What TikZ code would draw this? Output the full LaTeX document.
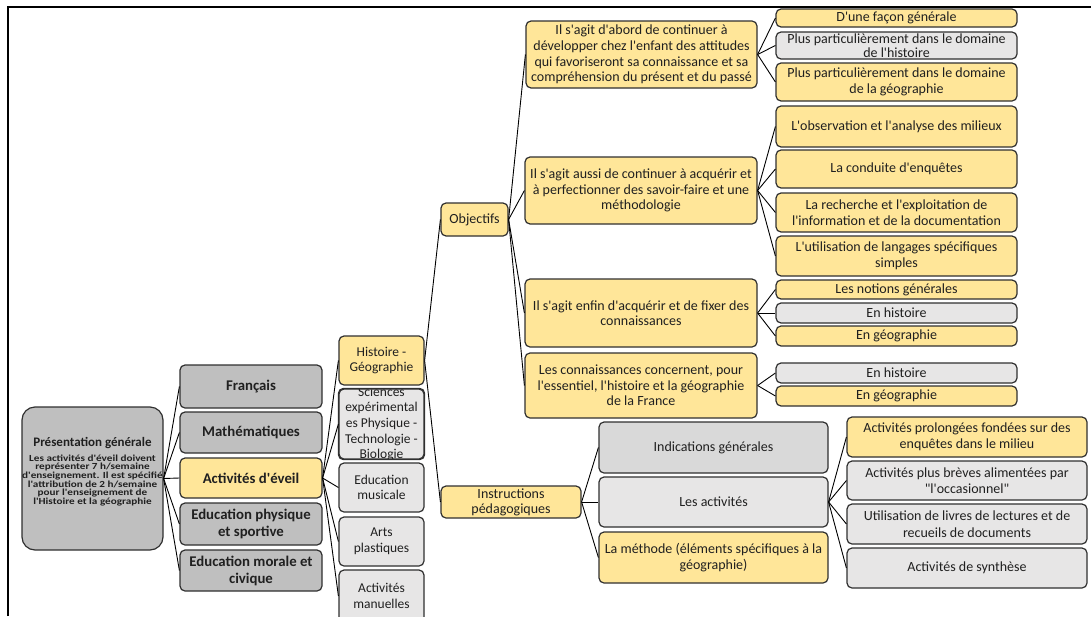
\documentclass[tikz,border=0pt]{standalone}
\usepackage{fontspec}
\setmainfont{Carlito}[Ligatures=TeXOff]
\newfontfamily\widefont{Carlito}[Ligatures=TeXOff, FakeStretch=1.2]
\definecolor{yel}{HTML}{FFE699}
\definecolor{lg}{HTML}{E7E6E6}
\definecolor{mg}{HTML}{D9D9D9}
\definecolor{dg}{HTML}{BFBFBF}
\definecolor{bord}{HTML}{303030}
\definecolor{txt}{HTML}{202020}
\tikzset{
  bx/.style={draw=bord, line width=1.2pt, rounded corners=5pt, inner sep=0pt, align=center, text=txt},
  yb/.style={bx, fill=yel},
  gb/.style={bx, fill=lg},
  mb/.style={bx, fill=mg},
  db/.style={bx, fill=dg},
  fbig/.style={font=\fontsize{14.8}{17}\selectfont\bfseries},
  fmid/.style={font=\fontsize{13.5}{15.7}\selectfont},
  fsm/.style={font=\fontsize{14}{16.5}\selectfont},
  fpar/.style={font=\fontsize{14}{15.6}\selectfont},
  conn/.style={draw=black, line width=0.9pt},
}
\newcommand\bxn[7]{\node[#1, minimum width=#5pt, minimum height=#6pt] (#2) at (#3,#4) {#7};}
\begin{document}
\begin{tikzpicture}[x=1pt,y=-1pt]
\clip (0,0) rectangle (1091,616);
\fill[white] (0,0) rectangle (1091,616);
\draw[line width=2pt] (8,616) -- (8,7) -- (1091,7);

% root
\node[db, rounded corners=13pt, minimum width=141pt, minimum height=143pt] (pres) at (92.5,478.5) {};
\node[align=center, text=txt, inner sep=0pt, yshift=7pt,
      font=\widefont\fontsize{9.3}{7.9}\selectfont\bfseries] (prest) at (pres.center)
  {{\normalfont\fontsize{13}{14}\selectfont\bfseries Présentation générale}\\[5pt]
   Les activités d'éveil doivent\\représenter 7 h/semaine\\d'enseignement. Il est spécifié\\l'attribution de 2 h/semaine\\pour l'enseignement de\\l'Histoire et la géographie};

% column 2
\bxn{db,fbig}{fr}{251}{386.5}{142}{43}{Français}
\bxn{db,fbig}{ma}{251}{432.5}{142}{41}{Mathématiques}
\bxn{yb,fbig}{ae}{251}{478}{142}{40}{Activités d'éveil}
\bxn{db,fbig}{ep}{251}{524}{142}{42}{Education physique\\et sportive}
\bxn{db,fbig}{em}{251}{570.5}{142}{41}{Education morale et\\civique}

% column 3
\bxn{yb,fmid}{hg}{381.5}{360.5}{85}{49}{Histoire -\\Géographie}
\node[gb, minimum width=85pt, minimum height=70pt] (sc) at (381.5,424) {};
\begin{scope}
  \clip (sc.south west) rectangle (sc.north east);
  \node[fmid, align=center, text=txt, inner sep=0pt] (sct) at (sc.center)
    {Sciences\\expérimental\\es Physique -\\Technologie -\\Biologie};
\end{scope}
\draw[draw=bord, line width=1.2pt, rounded corners=5pt] (sc.south west) rectangle (sc.north east);
\bxn{gb,fmid}{mu}{381.5}{487.5}{85}{49}{Education\\musicale}
\bxn{gb,fmid}{ap}{381.5}{541.5}{85}{49}{Arts\\plastiques}
\bxn{gb,fmid}{am}{381.5}{596}{85}{52}{Activités\\manuelles}

% level 4
\bxn{yb,fsm}{obj}{474.5}{219.5}{67}{33}{Objectifs}
\bxn{yb,fsm}{ip}{511}{502}{140}{32}{Instructions\\[-1.5pt]pédagogiques}

% objectifs children
\bxn{yb,fpar}{oa}{641.5}{54.5}{231}{67}{Il s'agit d'abord de continuer à\\développer chez l'enfant des attitudes\\qui favoriseront sa connaissance et sa\\compréhension du présent et du passé}
\bxn{yb,fpar}{ob}{641}{190.5}{232}{67}{Il s'agit aussi de continuer à acquérir et\\à perfectionner des savoir-faire et une\\méthodologie}
\bxn{yb,fpar}{oc}{641}{313}{232}{68}{Il s'agit enfin d'acquérir et de fixer des\\connaissances}
\bxn{yb,fpar}{od}{641}{385.5}{232}{65}{Les connaissances concernent, pour\\l'essentiel, l'histoire et la géographie\\de la France}

% grandchildren
\bxn{yb,fsm}{a1}{896.5}{18}{241}{18}{D'une façon générale}
\bxn{gb,fsm}{a2}{896.5}{45.5}{241}{27}{Plus particulièrement dans le domaine\\[-3pt]de l'histoire}
\bxn{yb,fsm}{a3}{896.5}{82}{241}{38}{Plus particulièrement dans le domaine\\de la géographie}
\bxn{yb,fsm}{b1}{896.5}{126.5}{241}{41}{L'observation et l'analyse des milieux}
\bxn{yb,fsm}{b2}{896.5}{169}{241}{38}{La conduite d'enquêtes}
\bxn{yb,fsm}{b3}{896.5}{212.5}{241}{39}{La recherche et l'exploitation de\\l'information et de la documentation}
\bxn{yb,fsm}{b4}{896.5}{256}{241}{40}{L'utilisation de langages spécifiques\\simples}
\bxn{yb,fsm}{c1}{896.5}{289.5}{241}{19}{Les notions générales}
\bxn{gb,fsm}{c2}{896.5}{313}{241}{20}{En histoire}
\bxn{yb,fsm}{c3}{896.5}{336}{241}{20}{En géographie}
\bxn{gb,fsm}{d1}{896.5}{373}{241}{20}{En histoire}
\bxn{yb,fsm}{d2}{896.5}{396}{241}{20}{En géographie}

% instructions children
\bxn{mb,fsm}{i1}{713.5}{447.5}{229}{51}{Indications générales}
\bxn{gb,fsm}{i2}{713.5}{502}{229}{50}{Les activités}
\bxn{yb,fsm}{i3}{713.5}{557.5}{229}{51}{La méthode (éléments spécifiques à la\\géographie)}

% activites children
\bxn{yb,fsm}{k1}{967}{437}{240}{40}{Activités prolongées fondées sur des\\enquêtes dans le milieu}
\bxn{gb,fsm}{k2}{967}{480.5}{240}{39}{Activités plus brèves alimentées par\\"l'occasionnel"}
\bxn{gb,fsm}{k3}{967}{524}{240}{40}{Utilisation de livres de lectures et de\\recueils de documents}
\bxn{gb,fsm}{k4}{967}{568}{240}{40}{Activités de synthèse}

% connectors
\foreach \c in {fr,ma,ae,ep,em} \draw[conn] (pres.east) -- (\c.west);
\foreach \c in {hg,sc,mu,ap,am} \draw[conn] (ae.east) -- (\c.west);
\foreach \c in {obj,ip} \draw[conn] (hg.east) -- (\c.west);
\foreach \c in {oa,ob,oc,od} \draw[conn] (obj.east) -- (\c.west);
\foreach \c in {a1,a2,a3} \draw[conn] (oa.east) -- (\c.west);
\foreach \c in {b1,b2,b3,b4} \draw[conn] (ob.east) -- (\c.west);
\foreach \c in {c1,c2,c3} \draw[conn] (oc.east) -- (\c.west);
\foreach \c in {d1,d2} \draw[conn] (od.east) -- (\c.west);
\foreach \c in {i1,i2,i3} \draw[conn] (ip.east) -- (\c.west);
\foreach \c in {k1,k2,k3,k4} \draw[conn] (i2.east) -- (\c.west);
\end{tikzpicture}
\end{document}
